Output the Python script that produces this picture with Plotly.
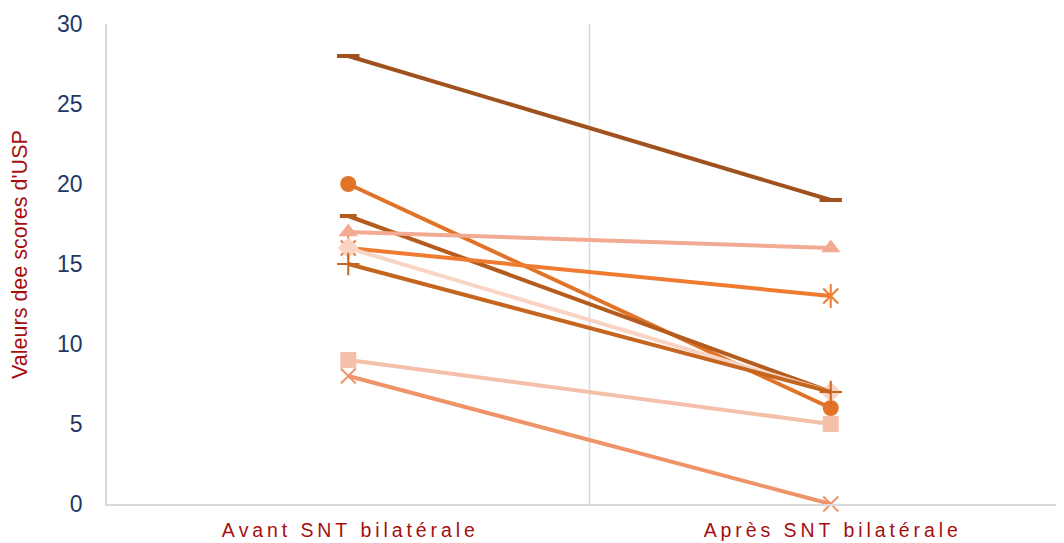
import plotly.graph_objects as go

# categories and series values
categories = ["Avant SNT bilatérale", "Après SNT bilatérale"]
series_values = [
    [28, 19],
    [20, 6],
    [18, 7],
    [17, 16],
    [16, 13],
    [16, 7],
    [15, 7],
    [9, 5],
    [8, 0],
]
y_ticks = [0, 5, 10, 15, 20, 25, 30]
y_title = "Valeurs dee scores d'USP"

# styles per series (colour, marker symbol, marker size, marker line width)
styles = [
    ("#A0521E", "line-ew", 16, 4),
    ("#E07328", "circle", 16, 0),
    ("#B35C1E", "line-ew", 12, 4),
    ("#F2AB92", "triangle-up", 17, 0),
    ("#EE7B30", "star6", 15, 2),
    ("#F9D3C4", "diamond", 16, 0),
    ("#C4661F", "cross-thin-open", 16, 2),
    ("#F5C0A9", "square", 16, 0),
    ("#EF9468", "x-thin-open", 15, 2),
]


def spaced(label):
    # mimic the wide letter spacing of the original labels
    return "\u2009".join(label)


fig = go.Figure()
x_pos = list(range(len(categories)))
for values, (color, symbol, size, lw) in zip(series_values, styles):
    if symbol == "star6":
        # excel-style asterisk: an x with a vertical stroke
        fig.add_trace(
            go.Scatter(
                x=x_pos, y=values, mode="lines+markers",
                line=dict(color=color, width=4),
                marker=dict(symbol="x-thin-open", size=size, color=color,
                            line=dict(color=color, width=lw)),
                showlegend=False, cliponaxis=False,
            )
        )
        fig.add_trace(
            go.Scatter(
                x=x_pos, y=values, mode="markers",
                marker=dict(symbol="line-ns-open", size=size + 2, color=color,
                            line=dict(color=color, width=lw)),
                showlegend=False, cliponaxis=False,
            )
        )
        continue
    fig.add_trace(
        go.Scatter(
            x=x_pos,
            y=values,
            mode="lines+markers",
            line=dict(color=color, width=4),
            marker=dict(
                symbol=symbol,
                size=size,
                color=color,
                line=dict(color=color, width=lw),
            ),
            showlegend=False,
            cliponaxis=False,
        )
    )

# gridline between the two categories
fig.add_shape(
    type="line", xref="x", yref="paper", x0=0.5, x1=0.5, y0=0, y1=1,
    line=dict(color="#D9D9D9", width=1.5), layer="below",
)

# y title placed like the original (slightly above centre)
fig.add_annotation(
    text=y_title,
    xref="paper", yref="paper", x=0, y=0.519,
    xshift=-87, xanchor="center", yanchor="middle",
    textangle=-90, showarrow=False,
    font=dict(size=21.5, color="#A50F0F"),
)

fig.update_layout(
    width=1064,
    height=543,
    margin=dict(l=99, r=0, t=16, b=47),
    paper_bgcolor="white",
    plot_bgcolor="white",
    font=dict(family="Liberation Sans, Arial, sans-serif"),
    xaxis=dict(
        range=[-0.5, 1.5],
        tickvals=x_pos,
        ticktext=[spaced(c) for c in categories],
        tickfont=dict(size=19.5, color="#A50F0F"),
        showgrid=False,
        zeroline=False,
        showline=True,
        linecolor="#D9D9D9",
        linewidth=1.5,
        ticks="",
        ticklabelstandoff=8,
    ),
    yaxis=dict(
        range=[0, 30],
        tickvals=y_ticks,
        tickfont=dict(size=23, color="#1F3864"),
        showgrid=False,
        zeroline=False,
        showline=True,
        linecolor="#D9D9D9",
        linewidth=1.5,
        ticks="",
        ticklabelstandoff=18,
    ),
)

fig.write_html("out.html")
